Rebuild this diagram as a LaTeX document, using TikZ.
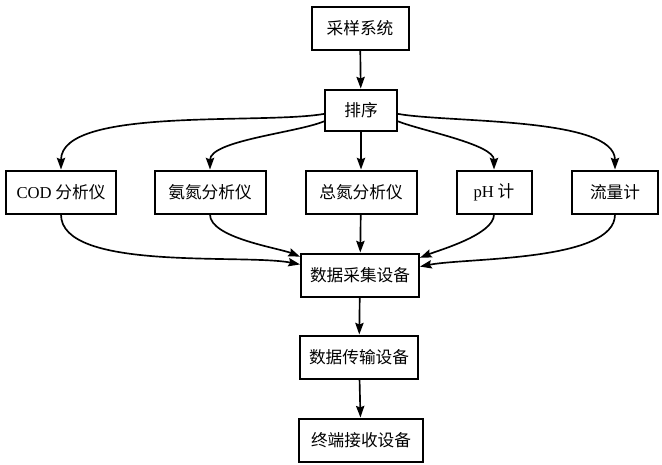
\documentclass[tikz,border=0pt]{standalone}
\usepackage{fontspec}
\setmainfont{Liberation Serif}
\newfontfamily\cjk{Noto Sans CJK SC}
\usetikzlibrary{arrows,arrows.meta}
\usetikzlibrary{positioning}

\begin{document}
\begin{tikzpicture}[x=0.6pt,y=-0.6pt,>={Stealth[length=7pt,width=5pt,inset=1pt]}]
\tikzset{
    box/.style={draw, line width=1.2pt, rectangle, minimum height=25.8pt, inner sep=2pt, font=\cjk},
    flow/.style={->, line width=1pt},
    soft/.style={looseness=0.6},
}
  \useasboundingbox (0,0) rectangle (662,465);

  % top
  \node[box, minimum width=58.2pt] (S) at (360,28) {采样系统};
  \node[box, minimum width=43.2pt, minimum height=24.6pt] (P) at (361,110) {排序};

  % analysers
  \node[box, minimum width=66pt] (A1) at (61,192) {{\rmfamily COD} 分析仪};
  \node[box, minimum width=66.6pt] (A2) at (210,192) {氨氮分析仪};
  \node[box, minimum width=66.6pt] (A3) at (361,192) {总氮分析仪};
  \node[box, minimum width=45pt] (A4) at (494,192) {{\rmfamily pH} 计};
  \node[box, minimum width=51.6pt] (A5) at (615,192) {流量计};

  % bottom
  \node[box, minimum width=70.8pt] (D) at (360,275) {数据采集设备};
  \node[box, minimum width=70.8pt] (T) at (359,357) {数据传输设备};
  \node[box, minimum width=74.4pt] (R) at (361,440) {终端接收设备};

  \draw[flow] (S) -- (P);
  \draw[flow, soft] (P.186) to[out=190,in=90] (A1.north);
  \draw[flow, soft] (P.197) to[out=203,in=90] (A2.north);
  \draw[flow] (P) -- (A3);
  \draw[flow, soft] (P.-17) to[out=-22,in=90] (A4.north);
  \draw[flow, soft] (P.-6) to[out=-10,in=90] (A5.north);

  \draw[flow, soft] (A1.south) to[out=-90,in=169] (D.170);
  \draw[flow, soft] (A2.south) to[out=-90,in=158] (D.163);
  \draw[flow] (A3) -- (D);
  \draw[flow, soft] (A4.south) to[out=-90,in=22] (D.16);
  \draw[flow, soft] (A5.south) to[out=-90,in=11] (D.8);

  \draw[flow] (D) -- (T);
  \draw[flow] (T) -- (R);
\end{tikzpicture}
\end{document}
